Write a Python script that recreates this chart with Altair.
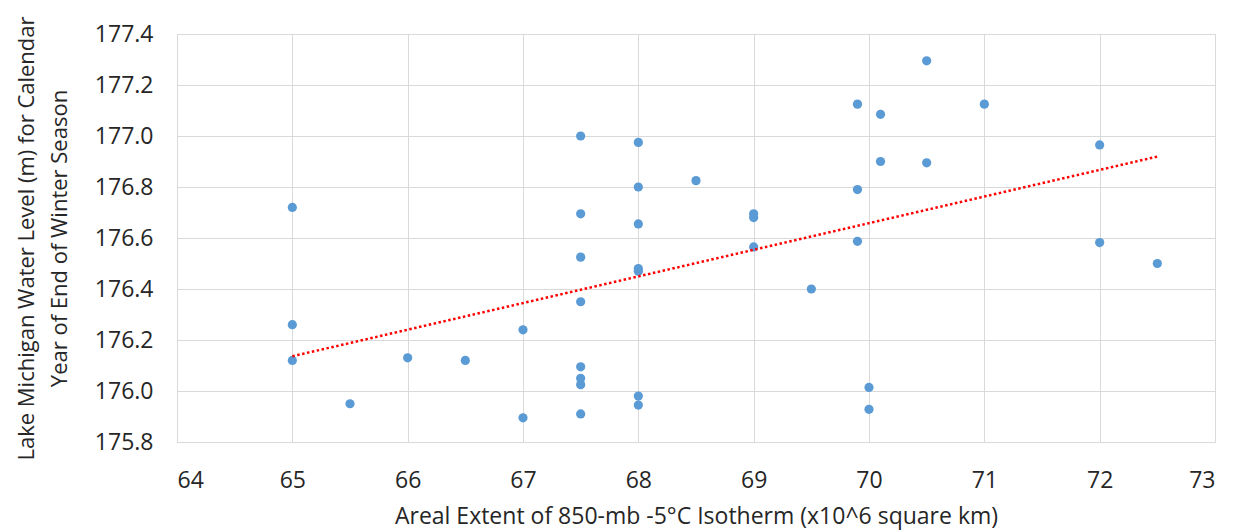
import altair as alt
import pandas as pd

# Areal extent of 850-mb -5°C isotherm (x10^6 km^2)
x_vals = [65, 65, 65, 65.5, 66, 66.5, 67, 67,
          67.5, 67.5, 67.5, 67.5, 67.5, 67.5, 67.5, 67.5,
          68, 68, 68, 68, 68, 68, 68,
          68.5, 69, 69, 69, 69.5,
          69.9, 69.9, 69.9, 70, 70, 70.1, 70.1,
          70.5, 70.5, 71, 72, 72, 72.5]
# Lake Michigan water level (m)
y_vals = [176.72, 176.26, 176.12, 175.95, 176.13, 176.12, 176.24, 175.895,
          177.0, 176.695, 176.525, 176.35, 176.095, 176.05, 176.025, 175.91,
          176.975, 176.80, 176.655, 176.48, 176.47, 175.98, 175.945,
          176.825, 176.695, 176.68, 176.565, 176.40,
          177.125, 176.79, 176.587, 176.014, 175.928, 177.085, 176.90,
          177.295, 176.895, 177.125, 176.965, 176.582, 176.50]

x_ticks = [64, 65, 66, 67, 68, 69, 70, 71, 72, 73]
y_ticks = [175.8, 176.0, 176.2, 176.4, 176.6, 176.8, 177.0, 177.2, 177.4]

x_title = "Areal Extent of 850-mb -5°C Isotherm (x10^6 square km)"
y_title = ["Lake Michigan Water Level (m) for Calendar", "Year of End of Winter Season"]

df = pd.DataFrame({"extent": x_vals, "level": y_vals})

FONT = "Open Sans"
TXT = "#262626"
GRID = "#D9D9D9"

x_enc = alt.X("extent:Q",
              scale=alt.Scale(domain=[64, 73], nice=False, zero=False),
              axis=alt.Axis(values=x_ticks, title=x_title, format="d",
                            labelFontSize=23, titleFontSize=23,
                            labelPadding=27, titlePadding=13,
                            labelFont=FONT, titleFont=FONT,
                            labelColor=TXT, titleColor=TXT, titleFontWeight="normal",
                            ticks=False, domainColor=GRID, gridColor=GRID))
y_enc = alt.Y("level:Q",
              scale=alt.Scale(domain=[175.8, 177.4], nice=False, zero=False),
              axis=alt.Axis(values=y_ticks, title=y_title, format=".1f",
                            labelFontSize=23, titleFontSize=22,
                            labelPadding=24, titlePadding=23,
                            titleLineHeight=33,
                            labelFont=FONT, titleFont=FONT,
                            labelColor=TXT, titleColor=TXT, titleFontWeight="normal",
                            ticks=False, domainColor=GRID, gridColor=GRID))

points = alt.Chart(df).mark_circle(size=85, color="#5B9BD5", opacity=1).encode(
    x=x_enc, y=y_enc)

trend = alt.Chart(df).transform_regression("extent", "level").mark_line(
    color="#FF0000", strokeWidth=2.5, strokeDash=[2.5, 2.5]).encode(
    x=alt.X("extent:Q"), y=alt.Y("level:Q"))

chart = alt.layer(points, trend).properties(
    width=1038, height=408,
    autosize=alt.AutoSizeParams(type="none"),
    padding={"left": 169, "top": 26, "right": 12, "bottom": 100},
).configure_view(stroke=GRID, strokeWidth=1).configure_axis(gridWidth=1)

chart.save("out.html", embed_options={"renderer": "svg", "actions": False})
